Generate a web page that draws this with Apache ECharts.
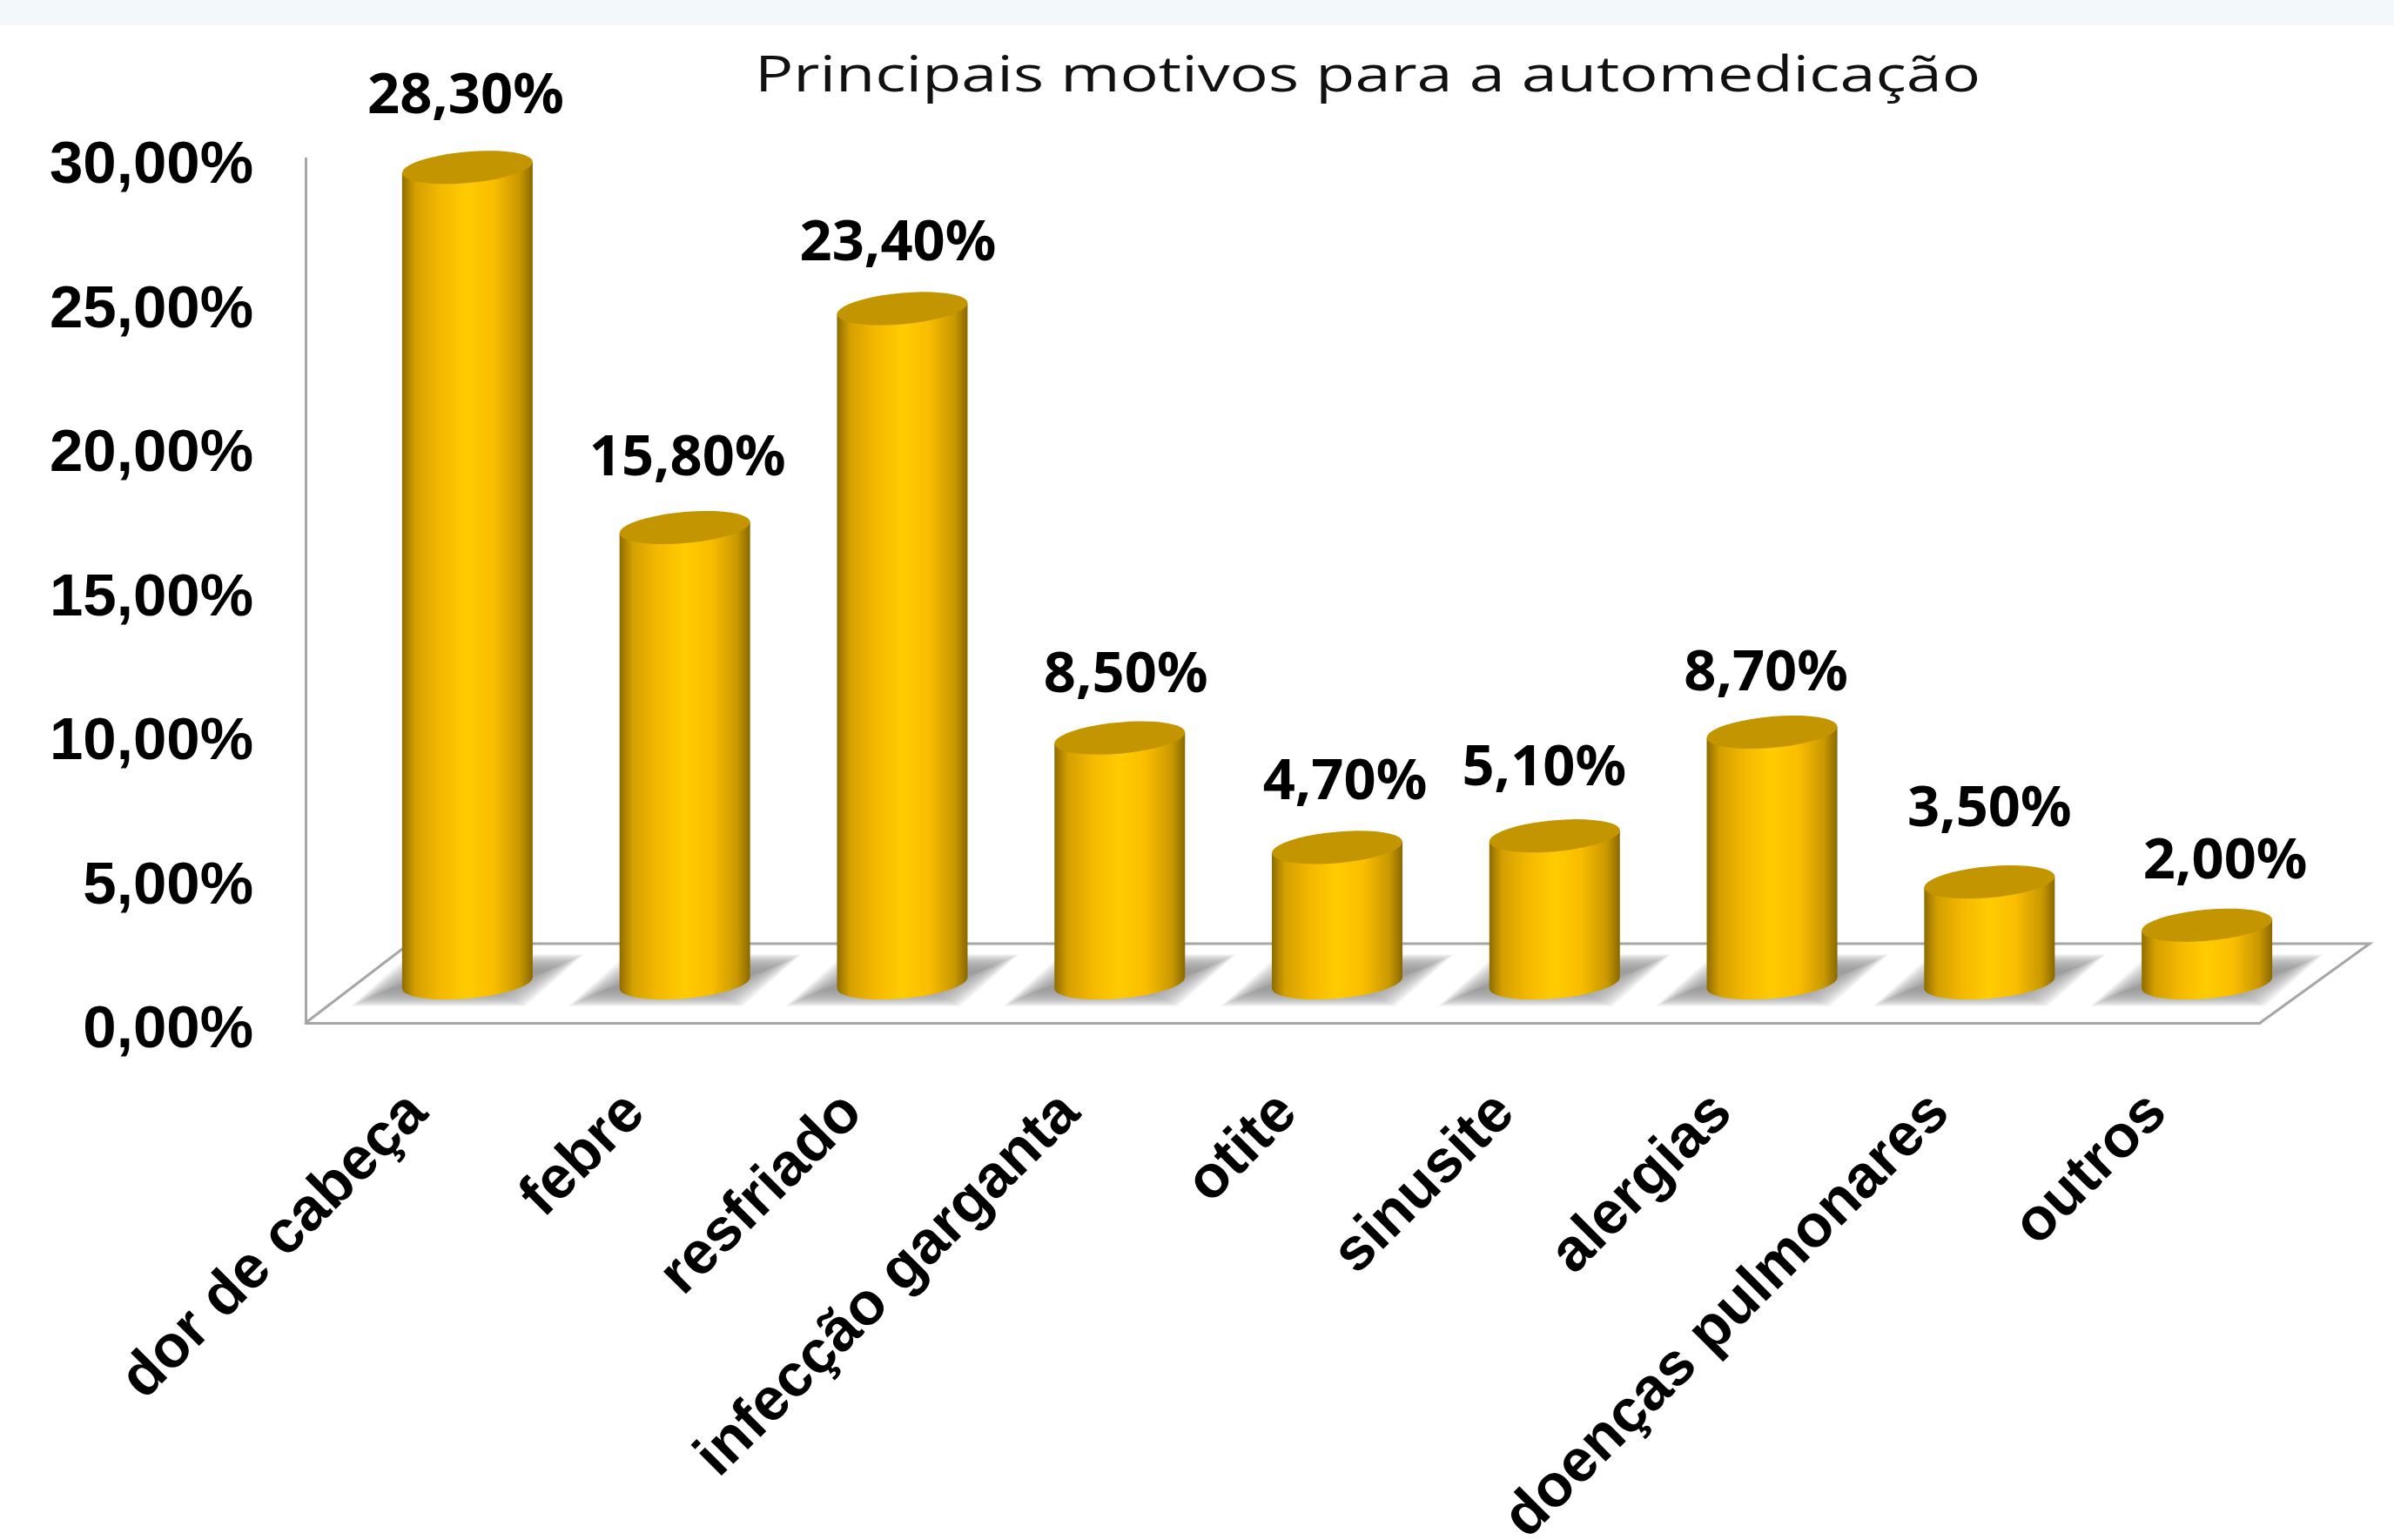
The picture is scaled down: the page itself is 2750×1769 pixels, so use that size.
<!DOCTYPE html>
<html>
<head>
<meta charset="utf-8">
<style>
  html, body { margin: 0; padding: 0; background: #fff; }
  #main { width: 2750px; height: 1769px; }
</style>
<script src="https://cdn.jsdelivr.net/npm/echarts@6/dist/echarts.min.js"></script>
</head>
<body>
<div id="main"></div>
<script>
const categories = ['dor de cabeça', 'febre', 'resfriado', 'infecção garganta', 'otite', 'sinusite', 'alergias', 'doenças pulmonares', 'outros'];
const values = [28.3, 15.8, 23.4, 8.5, 4.7, 5.1, 8.7, 3.5, 2.0];

// hand placement of the data labels, they are not evenly centred in the original
const labelDx = [-2, 3, -5, 7, 9, -12, -7, 0, 21];
const labelDy = [81, 79, 74, 71, 74, 77, 67, 83, 72];

const fmt = v => v.toFixed(2).replace('.', ',') + '%';

const RX = 75, RY = 18, TILT = 0.085;

function ellipsePts(cx, cy, from, to) {
  const pts = [];
  const n = 40;
  for (let k = 0; k <= n; k++) {
    const t = from + (to - from) * k / n;
    pts.push([cx + RX * Math.cos(t), cy + RY * Math.sin(t) - TILT * RX * Math.cos(t)]);
  }
  return pts;
}

// soft floor shadow: stacked sheared shapes, widest first
function floorShadow(cx, by) {
  const layers = [];
  for (let k = 16; k >= 0; k--) {
    const g = k * 2.6;
    layers.push({
      type: 'polygon',
      shape: {
        points: [
          [cx - 92 - g, by + 8 + g * 0.45],
          [cx + 25 + g, by + 8 + g * 0.45],
          [cx + 92 + g, by - 14 - g * 0.45],
          [cx - 25 - g, by - 14 - g * 0.45]
        ]
      },
      style: { fill: 'rgba(150,150,150,0.11)' }
    });
  }
  return layers;
}

function renderBar(params, api) {
  const i = api.value(0);
  const v = api.value(1);
  const base = api.coord([i, 0]);
  const top = api.coord([i, v]);
  const cx = base[0], by = base[1], ty = top[1];
  const bottomArc = ellipsePts(cx, by, Math.PI, 0);
  const body = bottomArc.concat([[cx + RX, ty - TILT * RX], [cx - RX, ty + TILT * RX]]);
  return {
    type: 'group',
    children: floorShadow(cx, by).concat([
      {
        type: 'polygon',
        shape: { points: body },
        style: {
          fill: new echarts.graphic.LinearGradient(0, 0, 1, 0, [
            { offset: 0, color: '#8f6c00' },
            { offset: 0.1, color: '#d4a000' },
            { offset: 0.3, color: '#f5b900' },
            { offset: 0.5, color: '#ffcc00' },
            { offset: 0.7, color: '#fabd00' },
            { offset: 0.9, color: '#c99800' },
            { offset: 1, color: '#8a6800' }
          ])
        }
      },
      {
        type: 'polygon',
        shape: { points: ellipsePts(cx, ty, 0, Math.PI * 2) },
        style: { fill: '#c39500' }
      },
      {
        type: 'text',
        style: {
          x: cx + labelDx[i],
          y: ty - labelDy[i],
          text: fmt(v),
          fill: '#000',
          font: 'bold 65px "Noto Sans"',
          align: 'center',
          verticalAlign: 'middle'
        }
      }
    ])
  };
}

const myChart = echarts.init(document.getElementById('main'), null, { renderer: 'canvas' });
const axisGrey = '#a6a6a6';
const boldLabel = { color: '#000', fontFamily: 'Liberation Sans', fontWeight: 'bold', fontSize: 69 };

myChart.setOption({
  animation: false,
  backgroundColor: '#fff',
  graphic: [
    { type: 'rect', z: -10, shape: { x: 0, y: 0, width: 2750, height: 29 }, style: { fill: '#f3f8fb' } },
    {
      type: 'polyline', z: -10,
      shape: { points: [[351, 1175], [470, 1084], [2722, 1084], [2596, 1175]] },
      style: { stroke: axisGrey, lineWidth: 3, fill: null }
    },
    {
      // the original title is stretched sideways
      type: 'text',
      x: 1571,
      y: 89,
      scaleX: 1.317,
      style: {
        text: 'Principais motivos para a automedicação',
        font: '56px "Open Sans"',
        fill: '#111',
        align: 'center',
        verticalAlign: 'middle'
      }
    }
  ],
  grid: [
    { left: 351, top: 182, width: 2245, height: 993, outerBoundsMode: 'none' },
    { left: 412, top: 136, width: 2248, height: 993, outerBoundsMode: 'none' }
  ],
  xAxis: [
    {
      gridIndex: 0,
      type: 'category',
      data: categories,
      axisLine: { show: true, lineStyle: { color: axisGrey, width: 3 } },
      axisTick: { show: false },
      axisLabel: { show: false },
      splitLine: { show: false }
    },
    {
      gridIndex: 1,
      type: 'category',
      data: categories,
      axisLine: { show: false },
      axisTick: { show: false },
      axisLabel: {
        interval: 0,
        rotate: 45,
        margin: 82,
        formatter: v => `{a|${v}}`,
        rich: { a: Object.assign({ padding: [0, 80, 0, 0] }, boldLabel) }
      }
    }
  ],
  yAxis: [
    {
      gridIndex: 0,
      type: 'value',
      min: 0,
      max: 30,
      interval: 5,
      axisLine: { show: true, lineStyle: { color: axisGrey, width: 3 } },
      axisTick: { show: false },
      splitLine: { show: false },
      axisLabel: {
        margin: 60,
        formatter: v => `{a|${fmt(v)}}`,
        rich: { a: Object.assign({ padding: [18, 0, 0, 0] }, boldLabel) }
      }
    },
    {
      gridIndex: 1,
      type: 'value',
      min: 0,
      max: 30,
      interval: 5,
      show: false
    }
  ],
  series: [
    {
      type: 'custom',
      xAxisIndex: 1,
      yAxisIndex: 1,
      clip: false,
      renderItem: renderBar,
      encode: { x: 0, y: 1 },
      data: values.map((v, i) => [i, v])
    }
  ]
});
</script>
</body>
</html>
